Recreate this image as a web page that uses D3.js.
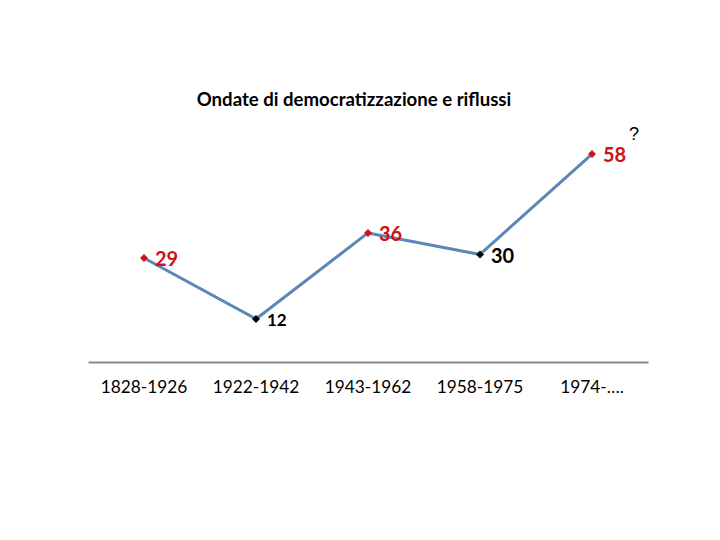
<!DOCTYPE html>
<html>
<head>
<meta charset="utf-8">
<script src="https://cdn.jsdelivr.net/npm/d3@7"></script>
<style>
html,body{margin:0;padding:0;background:#fff;}
svg{display:block;}
</style>
</head>
<body>
<svg id="chart" width="720" height="540"></svg>
<script>
const categories = ["1828-1926", "1922-1942", "1943-1962", "1958-1975", "1974-…."];
const values = [29, 12, 36, 30, 58];
const waveType = ["ondata", "riflusso", "ondata", "riflusso", "ondata"];
const title = "Ondate di democratizzazione e riflussi";
const note = "?";

const svg = d3.select("#chart");
const font = "Lato, 'Open Sans', sans-serif";

const x = d3.scaleBand().domain(categories).range([88, 648]).padding(0);
const y = d3.scaleLinear().domain([0, 70]).range([362, 111]);

const data = categories.map((c, i) => ({c, v: values[i], t: waveType[i]}));
const cx = d => x(d.c) + x.bandwidth() / 2;

// title
svg.append("text").attr("x", 354).attr("y", 106).attr("text-anchor", "middle")
  .attr("font-family", font).attr("font-weight", "bold").attr("font-size", 18.6)
  .attr("fill", "#000").text(title);

// x axis
const xAxis = svg.append("g").attr("transform", "translate(0,362)")
  .call(d3.axisBottom(x).tickSize(0).tickPadding(19));
xAxis.select(".domain").attr("stroke", "#888").attr("stroke-width", 2);
xAxis.selectAll("text").attr("font-family", font).attr("font-size", 17.3).attr("fill", "#000");

// line
svg.append("path").datum(data)
  .attr("d", d3.line().x(cx).y(d => y(d.v)))
  .attr("fill", "none").attr("stroke", "#5b86b8").attr("stroke-width", 3)
  .attr("stroke-linejoin", "round");

// markers
const colorOf = t => t === "ondata" ? "#d0101a" : "#000";
svg.selectAll(".mk").data(data).join("path").attr("class", "mk")
  .attr("d", d3.symbol(d3.symbolDiamond2, 40))
  .attr("transform", d => `translate(${cx(d)},${y(d.v)})`)
  .attr("fill", d => colorOf(d.t));

// labels
svg.selectAll(".lb").data(data).join("text").attr("class", "lb")
  .attr("x", d => cx(d) + 11)
  .attr("y", d => y(d.v) + (d.t === "ondata" ? 3 : 3))
  .attr("dominant-baseline", "middle")
  .attr("font-family", font).attr("font-weight", "bold")
  .attr("font-size", d => d.v === 12 ? 17 : (d.t === "ondata" ? 20 : 20))
  .attr("fill", d => colorOf(d.t))
  .text(d => d.v);

// question mark
svg.append("text").attr("x", 629).attr("y", 140)
  .attr("font-family", "'Liberation Sans', Arial, sans-serif").attr("font-size", 18)
  .attr("fill", "#000").text(note);
</script>
</body>
</html>
